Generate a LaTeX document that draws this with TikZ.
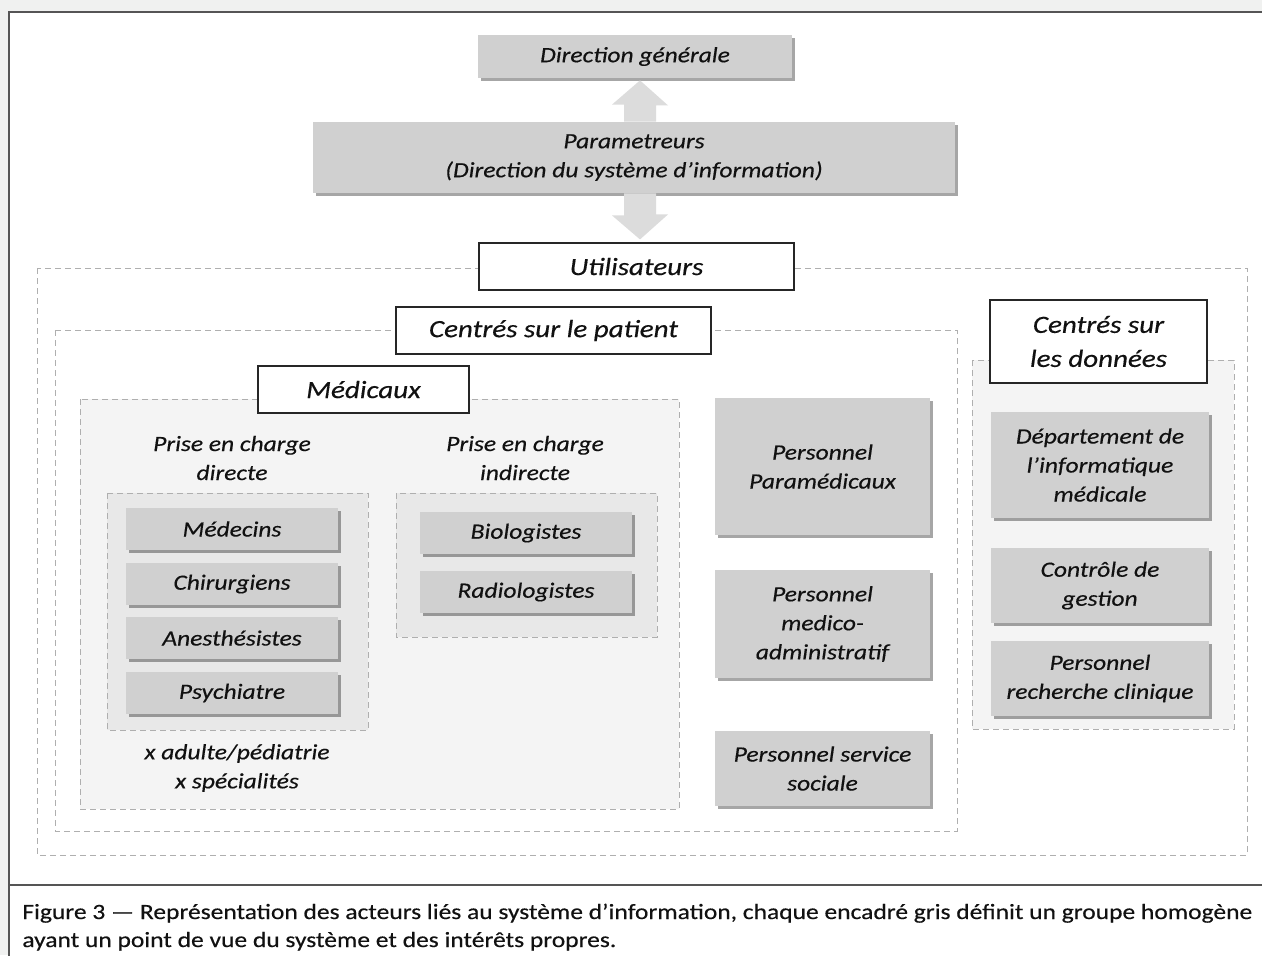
\documentclass[tikz,border=0pt]{standalone}
\usepackage{fontspec}
\setmainfont{Carlito}[FakeStretch=1.17, FakeBold=0.4]
\usetikzlibrary{positioning,calc,shadows}

\definecolor{pagegrey}{HTML}{F0F1F0}
\definecolor{framegrey}{HTML}{555555}
\definecolor{boxgrey}{HTML}{D0D0D0}
\definecolor{arrowgrey}{HTML}{DCDCDC}
\definecolor{dashgrey}{HTML}{AFAFAF}
\definecolor{zonegrey}{HTML}{F4F4F4}
\definecolor{subgrey}{HTML}{E8E8E8}
\definecolor{inkgrey}{HTML}{111111}

\newcommand{\smallfont}{\fontsize{10.9}{14.5}\selectfont\itshape}
\newcommand{\bigfont}{\fontsize{12.4}{17}\selectfont\itshape}

\begin{document}
\begin{tikzpicture}[x=0.5pt,y=-0.5pt,
    zone/.style={draw=dashgrey, dash pattern=on 3pt off 2pt, line width=0.5pt},
    actor/.style={fill=boxgrey, font=\smallfont, text=inkgrey, align=center, inner sep=0pt,
        drop shadow={shadow xshift=1.5pt, shadow yshift=-1.5pt, opacity=0.35, fill=black}},
    titlebox/.style={draw=black!85, fill=white, font=\bigfont, text=inkgrey, align=center,
        inner sep=0pt, line width=0.6pt},
    note/.style={font=\smallfont, text=inkgrey, align=center},
    ]
\useasboundingbox (0,0) rectangle (1262,955);
\clip (0,0) rectangle (1262,955);

% page and frame
\fill[pagegrey] (0,0) rectangle (1262,955);
\filldraw[fill=white, draw=framegrey, line width=1pt] (9,12) rectangle (1280,975);
\draw[framegrey, line width=1pt] (9,885) -- (1262,885);

% dashed zones
\draw[zone, fill=white] (37,268) rectangle (1247,855);
\draw[zone, fill=white] (55,330) rectangle (957,831);
\draw[zone, fill=zonegrey] (80,399) rectangle (679,809);
\draw[zone, fill=subgrey] (107,493) rectangle (368,730);
\draw[zone, fill=subgrey] (396,493) rectangle (657,637);
\draw[zone, fill=zonegrey] (972,360) rectangle (1234,729);

% top of the hierarchy
\node[actor, minimum width=157pt, minimum height=21.5pt] (dirgen) at (635,56.5) {Direction générale};
\node[actor, minimum width=321pt, minimum height=35.5pt] (param) at (634,157.5)
    {Parametreurs\\(Direction du système d’information)};
\node[titlebox, minimum width=157.5pt, minimum height=23.5pt] (util) at (636.5,266.5) {Utilisateurs};

% block arrows
\coordinate (uptip) at ($(dirgen.south)+(5,2)$);
\coordinate (downtip) at ($(util.north)+(3.5,-3)$);
\fill[arrowgrey] (uptip) -- ++(28,25) -- ++(-12,0) |- (param.north -| uptip) -- ++(-16,0)
    -- ++(0,-17) -- ++(-12,0) -- cycle;
\fill[arrowgrey] (downtip) -- ++(28,-25) -- ++(-12,0) |- (param.south -| downtip) -- ++(-16,0)
    -- ++(0,22) -- ++(-12,0) -- cycle;

% patient centred users
\node[titlebox, minimum width=157.5pt, minimum height=23.5pt] (patient) at (553.5,330.5) {Centrés sur le patient};
\node[titlebox, minimum width=105.5pt, minimum height=23.5pt] (medicaux) at (363.5,389.5) {Médicaux};

\node[note] (direct) at (232,458) {Prise en charge\\directe};
\node[note] (indirect) at (525,458) {Prise en charge\\indirecte};

\foreach \name/\txt/\y in {medecins/Médecins/529, chirurgiens/Chirurgiens/584,
    anesth/Anesthésistes/638, psy/Psychiatre/693}
    \node[actor, minimum width=106pt, minimum height=21pt] (\name) at (232,\y) {\txt};

\foreach \name/\txt/\y in {bio/Biologistes/533, radio/Radiologistes/592}
    \node[actor, minimum width=106pt, minimum height=21pt] (\name) at (526,\y) {\txt};

\node[note] (specs) at (237,768) {x adulte/pédiatrie\\x spécialités};

\node[actor, minimum width=107.5pt, minimum height=68.5pt] (paramed) at (822.5,466.5)
    {Personnel\\Paramédicaux};
\node[actor, minimum width=107.5pt, minimum height=54pt] (medadm) at (822.5,624)
    {Personnel\\medico-\\administratif};
\node[actor, minimum width=107.5pt, minimum height=37.5pt] (social) at (822.5,768.5)
    {Personnel service\\sociale};

% data centred users
\node[titlebox, minimum width=108.5pt, minimum height=41.5pt] (donnees) at (1098.5,341.5)
    {Centrés sur\\les données};
\node[actor, minimum width=109pt, minimum height=53pt] (dim) at (1100,465)
    {Département de\\l’informatique\\médicale};
\node[actor, minimum width=109pt, minimum height=37.5pt] (gestion) at (1100,585.5)
    {Contrôle de\\gestion};
\node[actor, minimum width=109pt, minimum height=37.5pt] (recherche) at (1100,678.5)
    {Personnel\\recherche clinique};

% caption
\node[anchor=base west, align=left, inner sep=0pt, text=inkgrey,
    font=\fontsize{10.9}{14}\selectfont] (caption) at (22,947)
    {Figure 3 — Représentation des acteurs liés au système d’information, chaque encadré gris définit un groupe homogène\\
     ayant un point de vue du système et des intérêts propres.};
\end{tikzpicture}
\end{document}
